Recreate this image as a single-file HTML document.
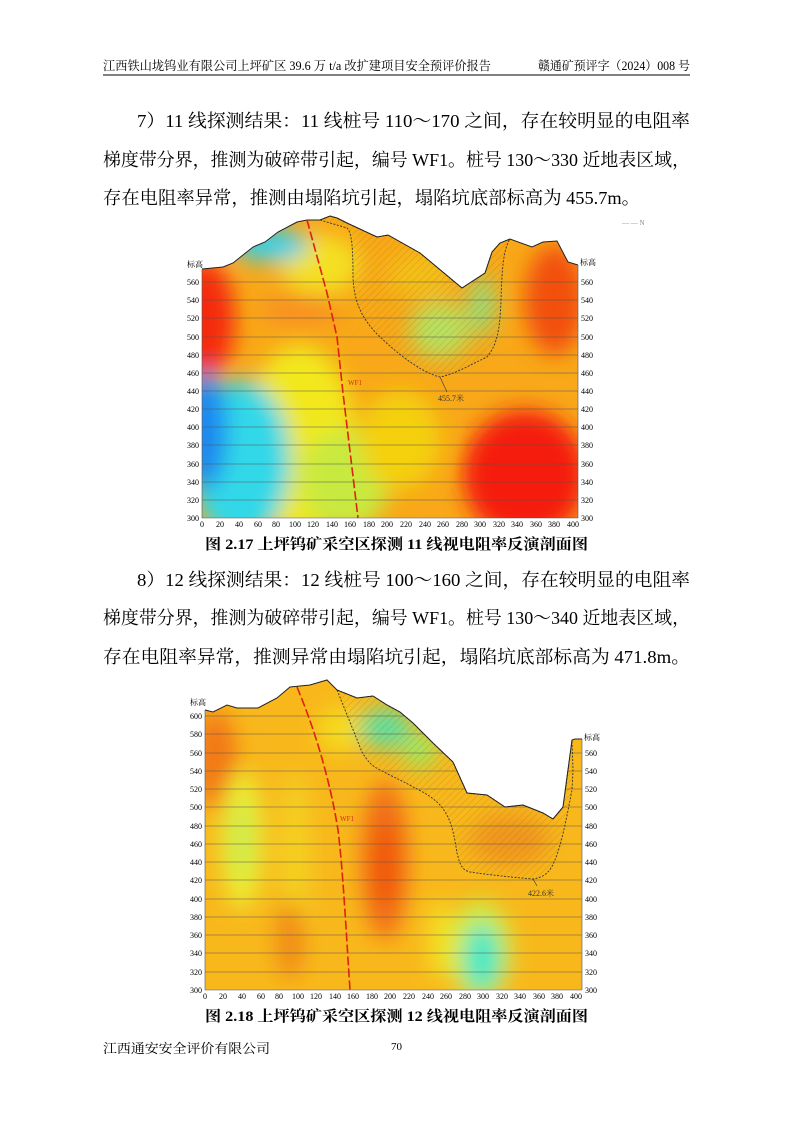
<!DOCTYPE html>
<html><head><meta charset="utf-8"><style>
html,body{margin:0;padding:0;background:#fff}
svg{display:block}
text{font-family:"Liberation Serif","Noto Serif CJK SC",serif;fill:#000}
.ax{font-size:8px;fill:#333}
</style></head><body>
<svg width="793" height="1122" viewBox="0 0 793 1122" xmlns="http://www.w3.org/2000/svg">
<defs>
<filter id="bl" x="-50%" y="-50%" width="200%" height="200%"><feGaussianBlur stdDeviation="11"/></filter>
<pattern id="hat" width="5" height="5" patternUnits="userSpaceOnUse" patternTransform="rotate(45)"><line x1="0" y1="0" x2="0" y2="5" stroke="#8a6a20" stroke-width="0.6" opacity="0.6"/></pattern>
<clipPath id="c1"><polygon points="202,269 223,267 233,263 253,247 265,242 278,232 297,222 307,220 320,220 330,216 337,218 347,223 377,237 388,235 420,253 462,288 485,273 492,252 500,243 510,239 532,247 543,242 557,241 568,262 578,265 578,518 202,518"/></clipPath>
<clipPath id="c2"><polygon points="205,710 213,712 227,705 237,708 258,708 277,698 290,687 310,685 327,680 337,690 357,698 373,696 387,705 400,712 413,723 433,743 453,762 467,793 487,795 505,807 523,805 543,813 553,819 563,807 572,740 575,739 582,739 582,990 205,990"/></clipPath>
</defs>

<text x="103" y="70" font-size="12.5" font-family="Liberation Sans,Noto Sans CJK SC,sans-serif" textLength="388" lengthAdjust="spacingAndGlyphs">江西铁山垅钨业有限公司上坪矿区 39.6 万 t/a 改扩建项目安全预评价报告</text>
<text x="538" y="70" font-size="12.5" font-family="Liberation Sans,Noto Sans CJK SC,sans-serif" textLength="152" lengthAdjust="spacingAndGlyphs">赣通矿预评字（2024）008 号</text>
<line x1="103" y1="75" x2="690" y2="75" stroke="#000" stroke-width="1"/>

<text x="137" y="127" font-size="18" textLength="553" lengthAdjust="spacingAndGlyphs">7）11 线探测结果：11 线桩号 110～170 之间，存在较明显的电阻率</text>
<text x="103" y="166" font-size="18" textLength="587" lengthAdjust="spacingAndGlyphs">梯度带分界，推测为破碎带引起，编号 WF1。桩号 130～330 近地表区域，</text>
<text x="103" y="204" font-size="18" textLength="537" lengthAdjust="spacingAndGlyphs">存在电阻率异常，推测由塌陷坑引起，塌陷坑底部标高为 455.7m。</text>

<!-- chart 1 -->
<g clip-path="url(#c1)">
<rect x="190" y="200" width="400" height="330" fill="#f8a818"/>
<g filter="url(#bl)">
<ellipse cx="300" cy="440" rx="55" ry="95" fill="#f2e81a"/>
<ellipse cx="345" cy="480" rx="45" ry="50" fill="#c8ea40"/>
<ellipse cx="400" cy="440" rx="40" ry="50" fill="#f4d010"/>
<ellipse cx="320" cy="265" rx="40" ry="30" fill="#f4e020"/>
<ellipse cx="205" cy="320" rx="30" ry="60" fill="#f52a0c"/>
<ellipse cx="300" cy="310" rx="40" ry="16" fill="#f89020"/>
<ellipse cx="240" cy="460" rx="50" ry="80" fill="#30d8e8"/>
<ellipse cx="205" cy="430" rx="22" ry="60" fill="#1e88f0"/>
<ellipse cx="270" cy="245" rx="38" ry="16" fill="#30d0ee"/>
<ellipse cx="525" cy="475" rx="62" ry="65" fill="#f51a0a"/>
<ellipse cx="555" cy="300" rx="30" ry="55" fill="#f25010"/>
<ellipse cx="440" cy="330" rx="30" ry="28" fill="#b8e060"/>
<ellipse cx="482" cy="305" rx="12" ry="30" fill="#90e080"/>
<ellipse cx="420" cy="275" rx="35" ry="22" fill="#f4c018"/>
</g>
<g stroke="#555" stroke-width="0.6">
<line x1="202" y1="282" x2="578" y2="282"/><line x1="202" y1="300" x2="578" y2="300"/><line x1="202" y1="318" x2="578" y2="318"/><line x1="202" y1="337" x2="578" y2="337"/><line x1="202" y1="355" x2="578" y2="355"/><line x1="202" y1="373" x2="578" y2="373"/><line x1="202" y1="391" x2="578" y2="391"/><line x1="202" y1="409" x2="578" y2="409"/><line x1="202" y1="427" x2="578" y2="427"/><line x1="202" y1="445" x2="578" y2="445"/><line x1="202" y1="464" x2="578" y2="464"/><line x1="202" y1="482" x2="578" y2="482"/><line x1="202" y1="500" x2="578" y2="500"/>
</g>
</g>
<path d="M320,220 L347,228 C352,232 353,250 353,277 C354,300 360,315 375,332 C395,352 420,372 440,377 C455,374 470,365 487,357 C497,345 500,330 501,300 C502,270 503,250 510,239 L500,243 L492,252 L485,273 L462,288 L420,253 L388,235 L377,237 L347,223 L337,218 L330,216 Z" fill="url(#hat)" stroke="#333" stroke-width="0.9" stroke-dasharray="2,1.5"/>
<polyline points="202,269 223,267 233,263 253,247 265,242 278,232 297,222 307,220 320,220 330,216 337,218 347,223 377,237 388,235 420,253 462,288 485,273 492,252 500,243 510,239 532,247 543,242 557,241 568,262 578,265" fill="none" stroke="#222" stroke-width="1"/>
<g stroke="#555" stroke-width="0.6">
<line x1="202" y1="269" x2="202" y2="518"/><line x1="578" y1="265" x2="578" y2="518"/><line x1="202" y1="518" x2="578" y2="518"/>
</g>
<polyline points="307,220 327,293 337,337 343,393 358,518" fill="none" stroke="#e02010" stroke-width="1.6" stroke-dasharray="9,3"/>
<text x="348" y="385" font-size="7" style="fill:#d03010">WF1</text>
<line x1="440" y1="377" x2="447" y2="392" stroke="#333" stroke-width="0.6"/>
<text x="438" y="401" font-size="8" class="ax">455.7米</text>
<g class="ax" text-anchor="end">
<text x="199" y="285">560</text><text x="199" y="303">540</text><text x="199" y="321">520</text><text x="199" y="340">500</text><text x="199" y="358">480</text><text x="199" y="376">460</text><text x="199" y="394">440</text><text x="199" y="412">420</text><text x="199" y="430">400</text><text x="199" y="448">380</text><text x="199" y="467">360</text><text x="199" y="485">340</text><text x="199" y="503">320</text><text x="199" y="521">300</text>
</g>
<g class="ax">
<text x="581" y="285">560</text><text x="581" y="303">540</text><text x="581" y="321">520</text><text x="581" y="340">500</text><text x="581" y="358">480</text><text x="581" y="376">460</text><text x="581" y="394">440</text><text x="581" y="412">420</text><text x="581" y="430">400</text><text x="581" y="448">380</text><text x="581" y="467">360</text><text x="581" y="485">340</text><text x="581" y="503">320</text><text x="581" y="521">300</text>
<text x="187" y="267">标高</text><text x="580" y="265">标高</text>
</g>
<g class="ax" text-anchor="middle">
<text x="202" y="527">0</text><text x="220" y="527">20</text><text x="239" y="527">40</text><text x="258" y="527">60</text><text x="276" y="527">80</text><text x="295" y="527">100</text><text x="313" y="527">120</text><text x="332" y="527">140</text><text x="350" y="527">160</text><text x="369" y="527">180</text><text x="387" y="527">200</text><text x="406" y="527">220</text><text x="425" y="527">240</text><text x="443" y="527">260</text><text x="462" y="527">280</text><text x="480" y="527">300</text><text x="499" y="527">320</text><text x="517" y="527">340</text><text x="536" y="527">360</text><text x="554" y="527">380</text><text x="573" y="527">400</text>
</g>
<text x="622" y="225" font-size="7" style="fill:#888">— — N</text>

<text x="205" y="549" font-size="15" font-weight="bold" textLength="383" lengthAdjust="spacingAndGlyphs">图 2.17  上坪钨矿采空区探测 11 线视电阻率反演剖面图</text>

<text x="137" y="586" font-size="18" textLength="553" lengthAdjust="spacingAndGlyphs">8）12 线探测结果：12 线桩号 100～160 之间，存在较明显的电阻率</text>
<text x="103" y="624" font-size="18" textLength="587" lengthAdjust="spacingAndGlyphs">梯度带分界，推测为破碎带引起，编号 WF1。桩号 130～340 近地表区域，</text>
<text x="103" y="663" font-size="18" textLength="587" lengthAdjust="spacingAndGlyphs">存在电阻率异常，推测异常由塌陷坑引起，塌陷坑底部标高为 471.8m。</text>

<!-- chart 2 -->
<g clip-path="url(#c2)">
<rect x="190" y="670" width="400" height="330" fill="#f8b81c"/>
<g filter="url(#bl)">
<ellipse cx="215" cy="760" rx="22" ry="50" fill="#f27818"/>
<ellipse cx="242" cy="840" rx="22" ry="70" fill="#ecec30"/>
<ellipse cx="242" cy="840" rx="10" ry="40" fill="#c8ea50"/>
<ellipse cx="295" cy="860" rx="16" ry="90" fill="#f4d020"/>
<ellipse cx="290" cy="940" rx="14" ry="40" fill="#f08a18"/>
<ellipse cx="385" cy="860" rx="24" ry="80" fill="#f27015"/>
<ellipse cx="385" cy="865" rx="10" ry="45" fill="#f05010"/>
<ellipse cx="340" cy="730" rx="22" ry="22" fill="#f4dc1c"/>
<ellipse cx="385" cy="728" rx="26" ry="20" fill="#5ee0a0"/>
<ellipse cx="420" cy="750" rx="18" ry="18" fill="#a0e860"/>
<ellipse cx="480" cy="950" rx="32" ry="50" fill="#d0ec40"/>
<ellipse cx="482" cy="958" rx="18" ry="35" fill="#40e8c8"/>
<ellipse cx="510" cy="840" rx="40" ry="25" fill="#f0961a"/>
<ellipse cx="440" cy="940" rx="12" ry="40" fill="#f4e020"/>
</g>
<g stroke="#555" stroke-width="0.6">
<line x1="205" y1="716" x2="582" y2="716"/><line x1="205" y1="734" x2="582" y2="734"/><line x1="205" y1="753" x2="582" y2="753"/><line x1="205" y1="771" x2="582" y2="771"/><line x1="205" y1="789" x2="582" y2="789"/><line x1="205" y1="807" x2="582" y2="807"/><line x1="205" y1="826" x2="582" y2="826"/><line x1="205" y1="844" x2="582" y2="844"/><line x1="205" y1="862" x2="582" y2="862"/><line x1="205" y1="880" x2="582" y2="880"/><line x1="205" y1="899" x2="582" y2="899"/><line x1="205" y1="917" x2="582" y2="917"/><line x1="205" y1="935" x2="582" y2="935"/><line x1="205" y1="953" x2="582" y2="953"/><line x1="205" y1="972" x2="582" y2="972"/>
</g>
</g>
<path d="M337,690 L362,752 C368,762 372,766 380,770 C395,778 405,782 413,787 C430,795 440,803 445,812 C452,822 455,840 457,853 C460,865 462,870 470,872 C490,875 510,877 533,879 C545,877 550,872 555,860 C563,840 568,810 572,790 L573,770 L572,740 L563,807 L553,819 L543,813 L523,805 L505,807 L487,795 L467,793 L453,762 L433,743 L413,723 L400,712 L387,705 L373,696 L357,698 Z" fill="url(#hat)" stroke="#333" stroke-width="0.9" stroke-dasharray="2,1.5"/>
<polyline points="205,710 213,712 227,705 237,708 258,708 277,698 290,687 310,685 327,680 337,690 357,698 373,696 387,705 400,712 413,723 433,743 453,762 467,793 487,795 505,807 523,805 543,813 553,819 563,807 572,740 575,739 582,739" fill="none" stroke="#222" stroke-width="1"/>
<g stroke="#555" stroke-width="0.6">
<line x1="205" y1="710" x2="205" y2="990"/><line x1="582" y1="739" x2="582" y2="990"/><line x1="205" y1="990" x2="582" y2="990"/>
</g>
<path d="M297,687 C315,730 330,780 338,830 C343,870 346,930 350,990" fill="none" stroke="#e02010" stroke-width="1.6" stroke-dasharray="9,3"/>
<text x="340" y="821" font-size="7" style="fill:#d03010">WF1</text>
<line x1="533" y1="879" x2="537" y2="886" stroke="#333" stroke-width="0.6"/>
<text x="528" y="896" font-size="8" class="ax">422.6米</text>
<g class="ax" text-anchor="end">
<text x="202" y="719">600</text><text x="202" y="737">580</text><text x="202" y="756">560</text><text x="202" y="774">540</text><text x="202" y="792">520</text><text x="202" y="810">500</text><text x="202" y="829">480</text><text x="202" y="847">460</text><text x="202" y="865">440</text><text x="202" y="883">420</text><text x="202" y="902">400</text><text x="202" y="920">380</text><text x="202" y="938">360</text><text x="202" y="956">340</text><text x="202" y="975">320</text><text x="202" y="993">300</text>
</g>
<g class="ax">
<text x="585" y="756">560</text><text x="585" y="774">540</text><text x="585" y="792">520</text><text x="585" y="810">500</text><text x="585" y="829">480</text><text x="585" y="847">460</text><text x="585" y="865">440</text><text x="585" y="883">420</text><text x="585" y="902">400</text><text x="585" y="920">380</text><text x="585" y="938">360</text><text x="585" y="956">340</text><text x="585" y="975">320</text><text x="585" y="993">300</text>
<text x="190" y="705">标高</text><text x="584" y="740">标高</text>
</g>
<g class="ax" text-anchor="middle">
<text x="205" y="999">0</text><text x="223" y="999">20</text><text x="242" y="999">40</text><text x="261" y="999">60</text><text x="279" y="999">80</text><text x="298" y="999">100</text><text x="316" y="999">120</text><text x="335" y="999">140</text><text x="353" y="999">160</text><text x="372" y="999">180</text><text x="390" y="999">200</text><text x="409" y="999">220</text><text x="428" y="999">240</text><text x="446" y="999">260</text><text x="465" y="999">280</text><text x="483" y="999">300</text><text x="502" y="999">320</text><text x="520" y="999">340</text><text x="539" y="999">360</text><text x="557" y="999">380</text><text x="576" y="999">400</text>
</g>

<text x="205" y="1021" font-size="15" font-weight="bold" textLength="383" lengthAdjust="spacingAndGlyphs">图 2.18  上坪钨矿采空区探测 12 线视电阻率反演剖面图</text>

<text x="103" y="1053" font-size="13" font-family="Liberation Sans,Noto Sans CJK SC,sans-serif" textLength="167" lengthAdjust="spacingAndGlyphs">江西通安安全评价有限公司</text>
<text x="391" y="1050" font-size="11">70</text>
</svg>
</body></html>
